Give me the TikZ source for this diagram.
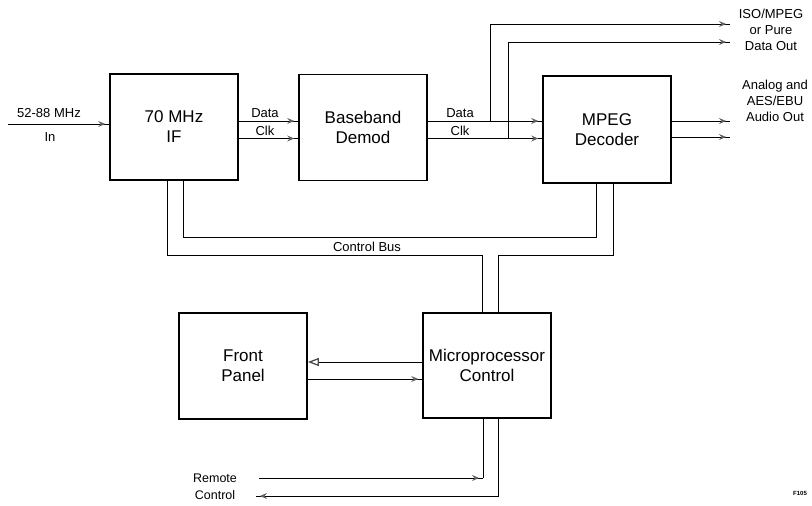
\documentclass[tikz,border=0pt]{standalone}
\usepackage{fontspec}
\setmainfont{Liberation Sans}
\usetikzlibrary{arrows.meta,decorations.markings}
\begin{document}
\begin{tikzpicture}[x=1pt,y=-1pt,
  blk/.style={draw, line width=1.6pt, minimum width=128pt, minimum height=106pt, align=center, inner sep=0pt, font=\fontsize{17}{20}\selectfont},
  wire/.style={line width=0.9pt},
  sig/.style={wire, postaction={decorate}, decoration={markings, mark=at position -4pt with {\arrow{Stealth[length=7pt,width=6pt,inset=2.5pt,gray!75!black]}}}},
  lbl/.style={inner sep=0pt, align=center, font=\fontsize{13}{16}\selectfont}]
\useasboundingbox (0,0) rectangle (812,506);
% blocks
\node[blk] (IF) at (174,127) {70 MHz\\IF};
\node[blk] (BB) at (363,127.5) {Baseband\\Demod};
\node[blk, minimum height=107pt] (MP) at (607,129.5) {MPEG\\Decoder};
\node[blk] (FP) at (243,366) {Front\\Panel};
\node[blk, minimum height=105pt] (MC) at (487,365.5) {Microprocessor\\Control};
% helper coordinates
\coordinate (yD) at (0,121);
\coordinate (yC) at (0,138.5);
\coordinate (in0) at (8,124);
\coordinate (t1) at (490,121);
\coordinate (t2) at (508,138.5);
\coordinate (o1) at (730,24);
\coordinate (o2) at (730,42);
\coordinate (a1) at (730,121);
\coordinate (a2) at (730,137);
% input
\draw[sig] (in0) -- (in0 -| IF.west);
\node[lbl] (inA) at (49,113) {52-88 MHz};
\node[lbl] (inB) at (50,137) {In};
% IF -> BB
\draw[sig] (IF.east |- yD) -- (BB.west |- yD);
\draw[sig] (IF.east |- yC) -- (BB.west |- yC);
\node[lbl] (l1) at (265,113) {Data};
\node[lbl] (l2) at (265,131) {Clk};
% BB -> MPEG
\draw[sig] (BB.east |- yD) -- (MP.west |- yD);
\draw[sig] (BB.east |- yC) -- (MP.west |- yC);
\node[lbl] (l3) at (460,113) {Data};
\node[lbl] (l4) at (460,131) {Clk};
% taps to data out
\draw[sig] (t1) |- (o1);
\draw[sig] (t2) |- (o2);
\node[lbl] (dout) at (771,30) {ISO/MPEG\\or Pure\\Data Out};
% audio
\draw[sig] (MP.east |- a1) -- (a1);
\draw[sig] (MP.east |- a2) -- (a2);
\node[lbl] (aout) at (775,101) {Analog and\\AES/EBU\\Audio Out};
% control bus
\coordinate (xa) at (167,255);
\coordinate (xb) at (482,255);
\coordinate (xc) at (498,255);
\coordinate (xd) at (613,255);
\coordinate (xe) at (183,237);
\coordinate (xf) at (596,237);
\draw[wire] (IF.south -| xa) -- (xa) -- (xb) -- (MC.north -| xb);
\draw[wire] (MC.north -| xc) -- (xc) -- (xd) -- (MP.south -| xd);
\draw[wire] (IF.south -| xe) -- (xe) -- (xf) -- (MP.south -| xf);
\node[lbl] (cb) at (367,247) {Control Bus};
% front panel <-> micro
\coordinate (yF1) at (0,362);
\coordinate (yF2) at (0,379);
\draw[wire, -{Triangle[open, length=11pt, width=8pt, line width=1.3pt, gray!60!black]}] (MC.west |- yF1) -- (FP.east |- yF1);
\draw[sig] (FP.east |- yF2) -- (MC.west |- yF2);
% remote control
\coordinate (r1) at (483,478);
\coordinate (rl1) at (259,478);
\coordinate (r2) at (498,496);
\coordinate (rl2) at (256,496);
\draw[wire] (MC.south -| r1) -- (r1);
\draw[sig] (rl1) -- (r1);
\draw[sig] (MC.south -| r2) -- (r2) -- (rl2);
\node[lbl, font=\fontsize{12.5}{17}\selectfont] (rc) at (215,487) {Remote\\Control};
% figure code
\node[inner sep=0pt, font=\fontsize{6}{7}\selectfont\bfseries] (fig) at (800,493) {F105};
\end{tikzpicture}
\end{document}
